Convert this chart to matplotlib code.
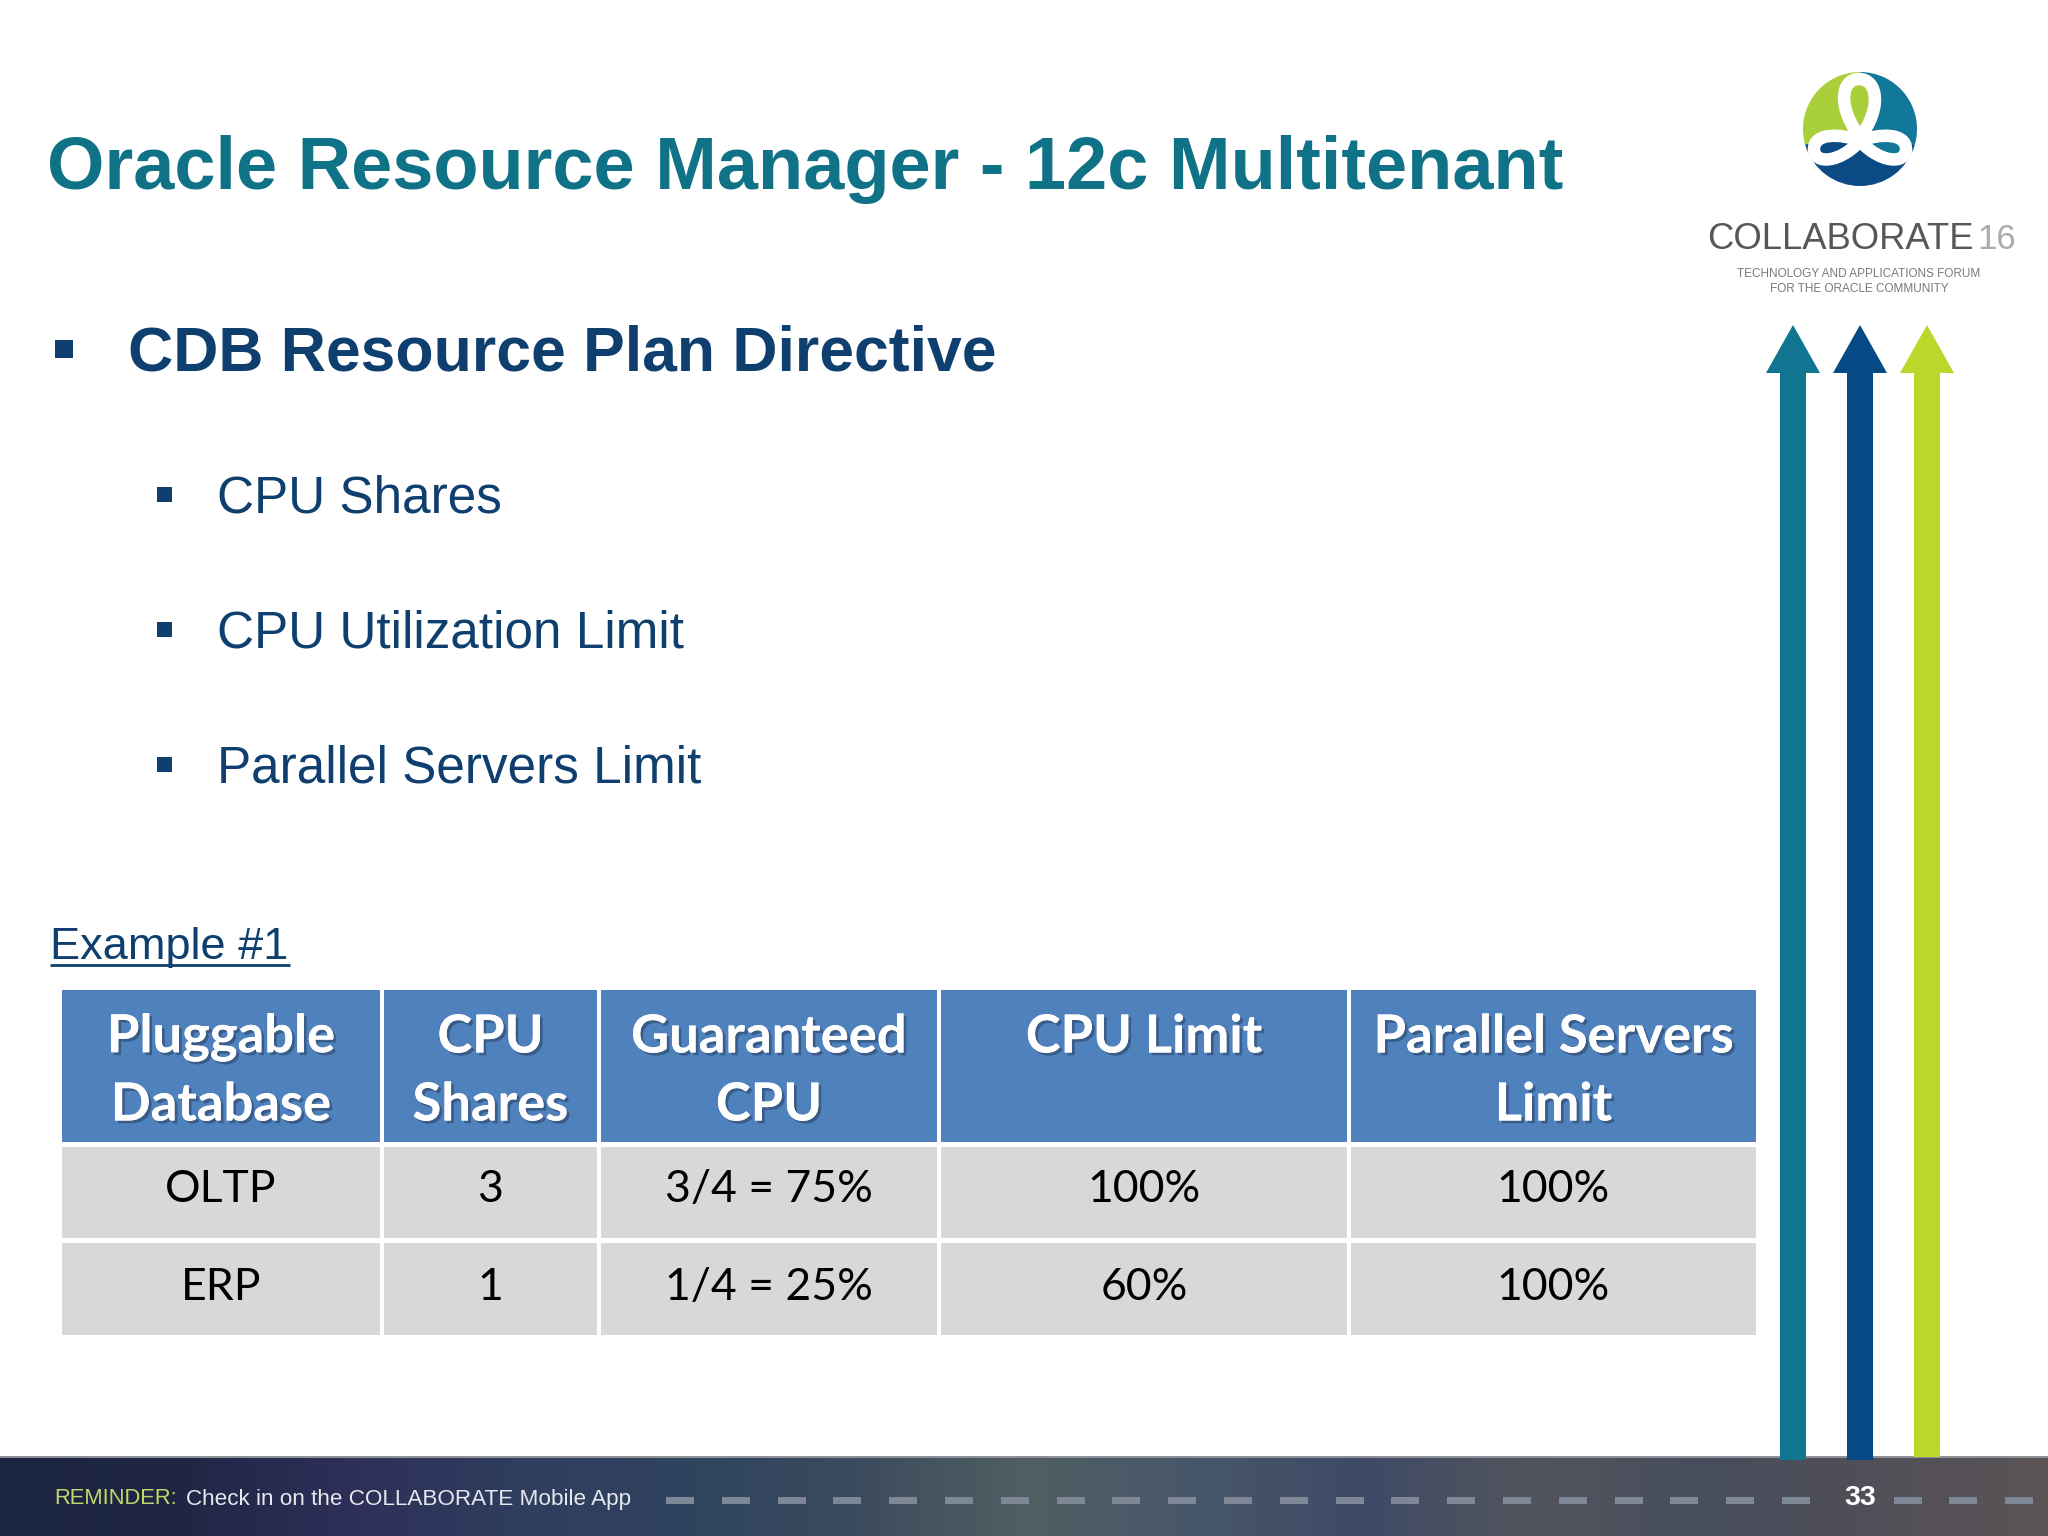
import numpy as np
import matplotlib as mpl
mpl.use('Agg')
import matplotlib.pyplot as plt
import matplotlib.patheffects as pe
from matplotlib.colors import LinearSegmentedColormap
from matplotlib.patches import Rectangle, Wedge, Polygon, PathPatch
from matplotlib.path import Path

# slide text
title = "Oracle Resource Manager - 12c Multitenant"
main_bullet = "CDB Resource Plan Directive"
sub_bullets = ["CPU Shares", "CPU Utilization Limit", "Parallel Servers Limit"]
example_label = "Example #1"

# table
col_headers = ["Pluggable\nDatabase", "CPU\nShares", "Guaranteed\nCPU", "CPU Limit", "Parallel Servers\nLimit"]
row_oltp = ["OLTP", "3", "3/4 = 75%", "100%", "100%"]
row_erp = ["ERP", "1", "1/4 = 25%", "60%", "100%"]

footer_label = "REMINDER:"
footer_text = "Check in on the COLLABORATE Mobile App"
page_number = "33"

# footer background colours, left to right
footer_colors = ["#1b2440", "#1e2644", "#2e2f58", "#2f3d5e", "#2f4360", "#3b4b5e", "#4f5f62", "#47576a",
                 "#3e4a66", "#52555c", "#474d5c", "#514f58", "#5a5455"]

TEAL = "#0f7590"
TITLE_TEAL = "#0f7286"
NAVY = "#0e3f6e"
DEEP_BLUE = "#064a85"
LIME = "#bcd72a"
HEADER_BLUE = "#4f81bd"
CELL_GREY = "#d8d8da"

ARIAL = "Liberation Sans"
CALIBRI = "Lato"

# figure in pixel coordinates, y going down like the slide
fig = plt.figure(figsize=(20.48, 15.36), dpi=100)
ax = fig.add_axes([0, 0, 1, 1])
ax.set_xlim(0, 2048)
ax.set_ylim(1536, 0)
ax.axis('off')

# title and bullets
ax.text(47, 170, title, family=ARIAL, weight='bold', fontsize=53.3, color=TITLE_TEAL, va='center', ha='left')
ax.add_patch(Rectangle((55, 340), 18, 18, fc=NAVY, ec='none'))
ax.text(128, 354, main_bullet, family=ARIAL, weight='bold', fontsize=45, color=NAVY, va='center', ha='left')

for txt, y in zip(sub_bullets, [499, 634, 769]):
    ax.add_patch(Rectangle((157, y - 12), 15, 15, fc=NAVY, ec='none'))
    ax.text(217, y, txt, family=ARIAL, fontsize=36.9, color=NAVY, va='center', ha='left')

ax.text(50, 959, example_label, family=ARIAL, fontsize=32.5, color=NAVY, va='baseline', ha='left')
ax.plot([50, 290], [965, 965], color=NAVY, lw=2, solid_capstyle='butt')

# table cells
col_left = [62, 384, 601, 941, 1351]
col_right = [380, 597, 937, 1347, 1756]
shadow = [pe.withSimplePatchShadow(offset=(2, -2), shadow_rgbFace='#20304a', alpha=0.45), pe.Normal()]

for left, right, head in zip(col_left, col_right, col_headers):
    ax.add_patch(Rectangle((left, 990), right - left, 152, fc=HEADER_BLUE, ec='none'))
    lines = head.split("\n")
    xc = (left + right) / 2
    ax.text(xc, 1037, lines[0], family=CALIBRI, weight='bold', fontsize=37.8, color='white',
            va='center', ha='center', path_effects=shadow)
    if len(lines) > 1:
        ax.text(xc, 1105, lines[1], family=CALIBRI, weight='bold', fontsize=37.8, color='white',
                va='center', ha='center', path_effects=shadow)

for row, top, bottom, yc in [(row_oltp, 1147, 1238, 1190), (row_erp, 1243, 1335, 1287)]:
    for left, right, val in zip(col_left, col_right, row):
        ax.add_patch(Rectangle((left, top), right - left, bottom - top, fc=CELL_GREY, ec='none'))
        ax.text((left + right) / 2, yc, val, family=CALIBRI, fontsize=32, color='black', va='center', ha='center')

# footer band
cmap = LinearSegmentedColormap.from_list('footer', footer_colors)
ax.imshow(np.linspace(0, 1, 512).reshape(1, -1), cmap=cmap, extent=(0, 2048, 1536, 1457), aspect='auto', zorder=1)
ax.set_xlim(0, 2048)
ax.set_ylim(1536, 0)
ax.plot([0, 2048], [1456.5, 1456.5], color='#8d9096', lw=1.5, zorder=2)

# arrows
for xc, color, y_end in [(1793, TEAL, 1460), (1860, DEEP_BLUE, 1460), (1927, LIME, 1457)]:
    pts = [(xc, 325), (xc + 27, 373), (xc + 13, 373), (xc + 13, y_end), (xc - 13, y_end), (xc - 13, 373),
           (xc - 27, 373)]
    ax.add_patch(Polygon(pts, closed=True, fc=color, ec='none', zorder=3))

# footer text
ax.text(54, 1499, footer_label, family=ARIAL, fontsize=15.8, color='#c3d66b', va='center', ha='left', zorder=4)
ax.text(186, 1499, footer_text, family=ARIAL, fontsize=16.2, color='#e6e8ee', va='center', ha='left', zorder=4)
for x0 in np.arange(666, 2048, 55.8):
    if abs(x0 + 14 - 1860) > 30:
        ax.add_patch(Rectangle((x0, 1496.5), 28, 7, fc='#7e8796', ec='none', zorder=4))
ax.text(1860, 1498, page_number, family=ARIAL, weight='bold', fontsize=20.5, color='white', va='center', ha='center',
        zorder=5)

# logo
cx, cy, r = 1860, 129, 57
ax.add_patch(Wedge((cx, cy), r, 164, 270, fc="#a9cf3a", ec='none', zorder=3))
ax.add_patch(Wedge((cx, cy), r, 270, 376, fc="#11789a", ec='none', zorder=3))
ax.add_patch(Wedge((cx, cy), r, 16, 164, fc="#0b4a85", ec='none', zorder=3))


def loop(points, face):
    verts = [(cx + px, cy + py) for px, py in points]
    codes = [Path.MOVETO, Path.CURVE4, Path.CURVE4, Path.CURVE4, Path.CURVE4, Path.CURVE4, Path.CURVE4]
    ax.add_patch(PathPatch(Path(verts, codes), fc=face, ec='white', lw=9, zorder=4))


loop([(0, 8), (-22, -20), (-20, -50), (-1, -50), (18, -50), (22, -20), (0, 8)], "#a9cf3a")
loop([(0, 12), (-20, 4), (-46, 4), (-46, 20), (-46, 36), (-20, 34), (0, 12)], "#0b4a85")
loop([(0, 12), (20, 4), (46, 4), (46, 20), (46, 36), (20, 34), (0, 12)], "#11789a")

ax.text(1707, 249, "COLLABORATE", family=ARIAL, fontsize=26.2, color='#55575a', va='baseline', ha='left', zorder=3)
ax.text(1977, 249, "16", family=ARIAL, fontsize=25, color='#ababab', va='baseline', ha='left', zorder=3)
ax.text(1859, 274, "TECHNOLOGY AND APPLICATIONS FORUM", family=ARIAL, fontsize=8.5, color='#77797c', va='center',
        ha='center', zorder=3)
ax.text(1859, 289, "FOR THE ORACLE COMMUNITY", family=ARIAL, fontsize=8.5, color='#77797c', va='center',
        ha='center', zorder=3)

fig.savefig('out.png', dpi=100, facecolor='white')
